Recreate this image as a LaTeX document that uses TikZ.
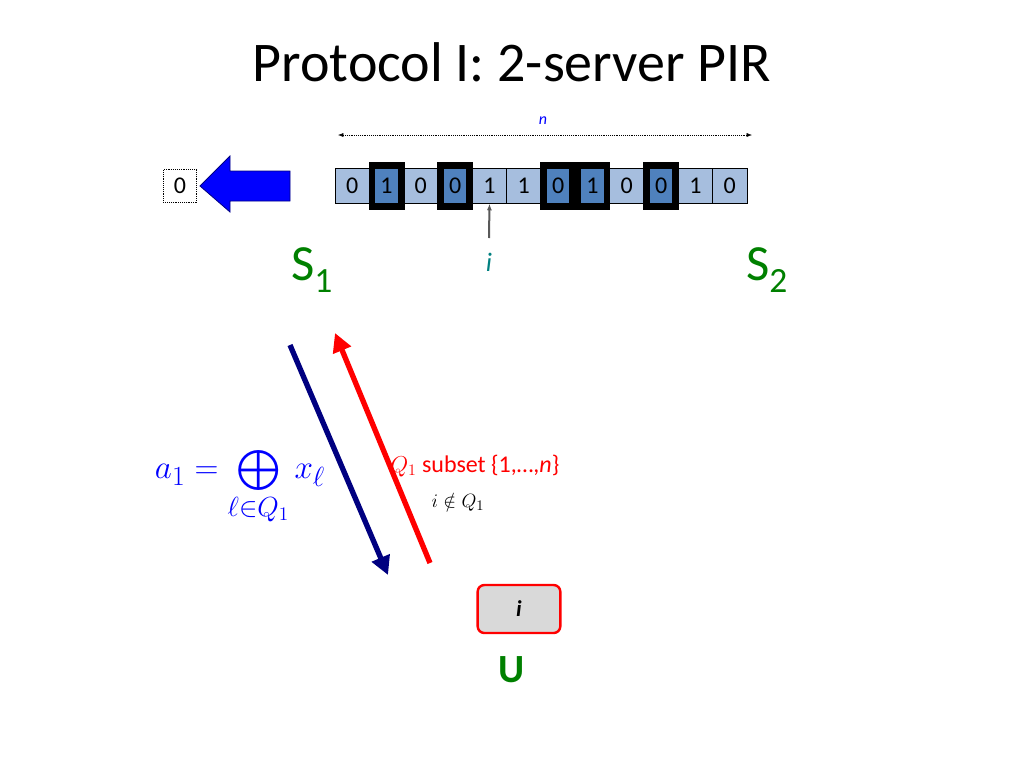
\documentclass[tikz,border=0pt]{standalone}
\usepackage{fontspec}
\setmainfont{Carlito}
\usepackage{amssymb}
\usetikzlibrary{positioning,arrows.meta}
\definecolor{cellblue}{RGB}{166,190,222}
\definecolor{darkcell}{RGB}{79,129,189}
\definecolor{sgreen}{RGB}{0,128,0}
\definecolor{navyarr}{RGB}{0,0,128}
\begin{document}
\begin{tikzpicture}[
    x=0.75pt, y=-0.75pt,
    every node/.style={inner sep=0pt},
    cell/.style={draw, fill=cellblue, minimum width=25.7pt, minimum height=26pt, font=\fontsize{18}{18}\selectfont},
    hcell/.style={cell, fill=darkcell},
    hbox/.style={draw=black, line width=5pt, minimum width=22pt, minimum height=31pt},
    server/.style={text=sgreen, font=\fontsize{38}{38}\selectfont}
  ]
    \useasboundingbox (0,0) rectangle (1024,768);
    % title
    \node (title) at (512,62) {\fontsize{42}{42}\selectfont Protocol I: 2-server PIR};

    % database x_1 ... x_n
    \def\W{34.33}
    \foreach \b/\s [count=\k from 0] in {0/cell,1/hcell,0/cell,0/hcell,1/cell,1/cell,0/hcell,1/hcell,0/cell,0/hcell,1/cell,0/cell} {
      \node[\s] (c\k) at ({335+\W/2+(\k)*\W},186) {\b};
    }
    % cells in Q_1
    \foreach \k in {1,3,6,7,9} {
      \node[hbox] (q\k) at (c\k) {};
    }

    % length n
    \coordinate (nl) at (338,135);
    \coordinate (nr) at (752,135);
    \draw[densely dotted, {Latex[length=4pt]}-{Latex[length=4pt]}] (nl) -- (nr);
    \node[text=blue, font=\fontsize{12}{12}\selectfont\itshape] (n) at (543,121) {n};

    % index i
    \node[text=teal, font=\fontsize{20}{20}\selectfont\itshape] (ilab) at (489,262) {i};
    \draw[gray!70!black, line width=1.5pt, -{Latex[length=5pt]}] (489,238) -- (c4.south);

    % answer
    \node[draw, densely dotted, minimum width=25pt, minimum height=25pt, font=\fontsize{18}{18}\selectfont] (ans) at (180,186) {0};
    \fill[blue, draw=navyarr, line width=0.6pt] (290,171) -- (230,171) -- (230,156) -- (200,186)
      -- (230,212) -- (230,201) -- (290,201) -- cycle;

    % servers
    \node[server] (s1) at (312,270) {S\textsubscript{1}};
    \node[server] (s2) at (767,270) {S\textsubscript{2}};

    % user
    \node[draw=red, line width=1.8pt, rounded corners=5pt, fill=gray!30, minimum width=62pt, minimum height=36pt,
      font=\fontsize{17}{17}\selectfont\bfseries\itshape] (user) at (519,609) {i};
    \node[text=sgreen, font=\fontsize{30}{30}\selectfont\bfseries] (ulab) at (512,670) {U};

    % messages
    \coordinate (a0) at (290,345);
    \coordinate (a1) at (388,575);
    \coordinate (r0) at (430,563);
    \coordinate (r1) at (335,333);
    \draw[navyarr, line width=4pt, -{Triangle[length=14pt,width=14pt]}] (a0) -- (a1);
    \draw[red, line width=4pt, -{Triangle[length=14pt,width=14pt]}] (r0) -- (r1);

    \node[text=blue, font=\fontsize{30}{30}\selectfont] (aform) at (240,488)
      {$a_1 = \bigoplus\limits_{\ell\in Q_1} x_\ell$};
    \node[text=red, font=\fontsize{18}{18}\selectfont, anchor=west] (qtext) at (390,466) {$Q_1$ subset \{1,\ldots,\textit{n}\}};
    \node[font=\fontsize{15}{15}\selectfont] (inot) at (458,502) {$i \notin Q_1$};
\end{tikzpicture}
\end{document}
